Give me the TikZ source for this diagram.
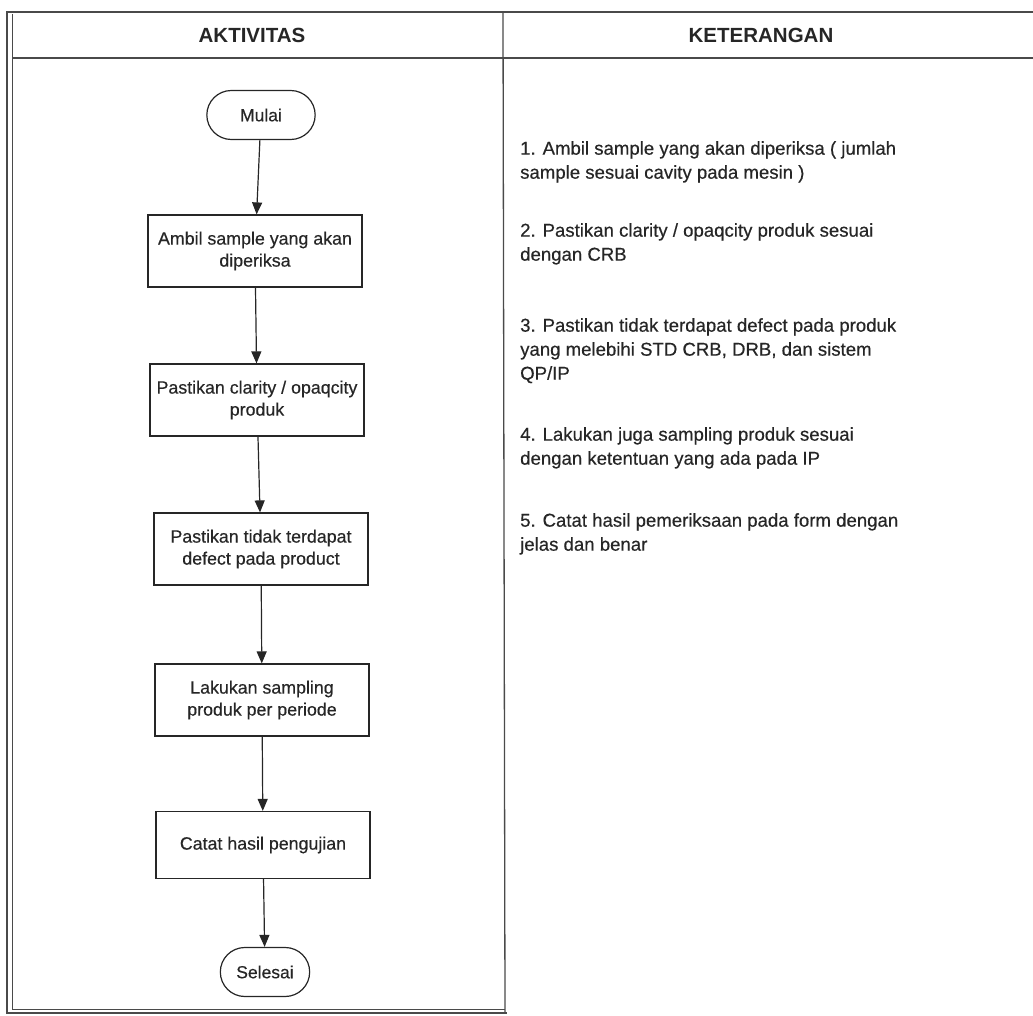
\documentclass[tikz,border=0pt]{standalone}
\usepackage{fontspec}
\setmainfont{Liberation Sans}
\newfontfamily\heavy{Liberation Sans}[FakeBold=0.45]
\newfontfamily\headfont{Liberation Sans Bold}
\usetikzlibrary{arrows.meta,shapes.misc}
\definecolor{ink}{HTML}{262626}
\definecolor{rule}{HTML}{4A4A4A}
\tikzset{
  frame/.style={draw=rule, line width=1.3pt},
  stepbox/.style={draw=ink, line width=1.2pt, minimum width=214pt, minimum height=72pt,
    align=center, font=\heavy\fontsize{17.8}{22}\selectfont, inner sep=0pt, text=ink},
  terminal/.style={draw=ink, line width=1.2pt, rounded rectangle, minimum height=49pt,
    font=\heavy\fontsize{17.5}{21}\selectfont, text=ink},
  flow/.style={draw=ink, line width=1.2pt, -{Triangle[length=12pt,width=10pt]}},
  head/.style={font=\headfont\fontsize{20.5}{24}\selectfont, text=ink},
  note/.style={anchor=north west, align=left, font=\heavy\fontsize{18.6}{24}\selectfont, text=ink, inner sep=0pt}
}
\begin{document}
\begin{tikzpicture}[x=1pt,y=-1pt]
\useasboundingbox (0,0) rectangle (1033,1016);
% outer frame: double rule on the left and bottom
\draw[frame] (1033,12) -- (7,12) -- (7,1013) -- (507,1013);
\draw[frame, line width=0.9pt] (12,14) -- (12,1009) -- (505,1009);
\draw[frame] (503,12) -- (505,1013);
\draw[frame] (12,58) -- (1033,58);
% column headings
\node[head] (h1) at (252,35) {AKTIVITAS};
\node[head] (h2) at (761,35) {KETERANGAN};
% flow of activities
\node[terminal, minimum width=115pt] (start) at (261,115) {Mulai};
\node[stepbox] (s1) at (255,251) {Ambil sample yang akan\\diperiksa};
\node[stepbox] (s2) at (257,400) {Pastikan clarity / opaqcity\\produk};
\node[stepbox] (s3) at (261,549) {Pastikan tidak terdapat\\defect pada product};
\node[stepbox] (s4) at (262,700) {Lakukan sampling\\produk per periode};
\node[stepbox, minimum height=67pt] (s5) at (263,845) {Catat hasil pengujian};
\node[terminal, minimum width=96pt] (stop) at (265,972) {Selesai};
\draw[flow] (start) -- (s1);
\draw[flow] (s1) -- (s2);
\draw[flow] (s2) -- (s3);
\draw[flow] (s3) -- (s4);
\draw[flow] (s4) -- (s5);
\draw[flow] (s5) -- (stop);
% explanations
\node[note] (n1) at (520,141) {1. Ambil sample yang akan diperiksa ( jumlah\\sample sesuai cavity pada mesin )};
\node[note] (n2) at (520,223) {2. Pastikan clarity / opaqcity produk sesuai\\dengan CRB};
\node[note] (n3) at (520,318) {3. Pastikan tidak terdapat defect pada produk\\yang melebihi STD CRB, DRB, dan sistem\\QP/IP};
\node[note] (n4) at (520,427) {4. Lakukan juga sampling produk sesuai\\dengan ketentuan yang ada pada IP};
\node[note] (n5) at (520,513) {5. Catat hasil pemeriksaan pada form dengan\\jelas dan benar};
\end{tikzpicture}
\end{document}
